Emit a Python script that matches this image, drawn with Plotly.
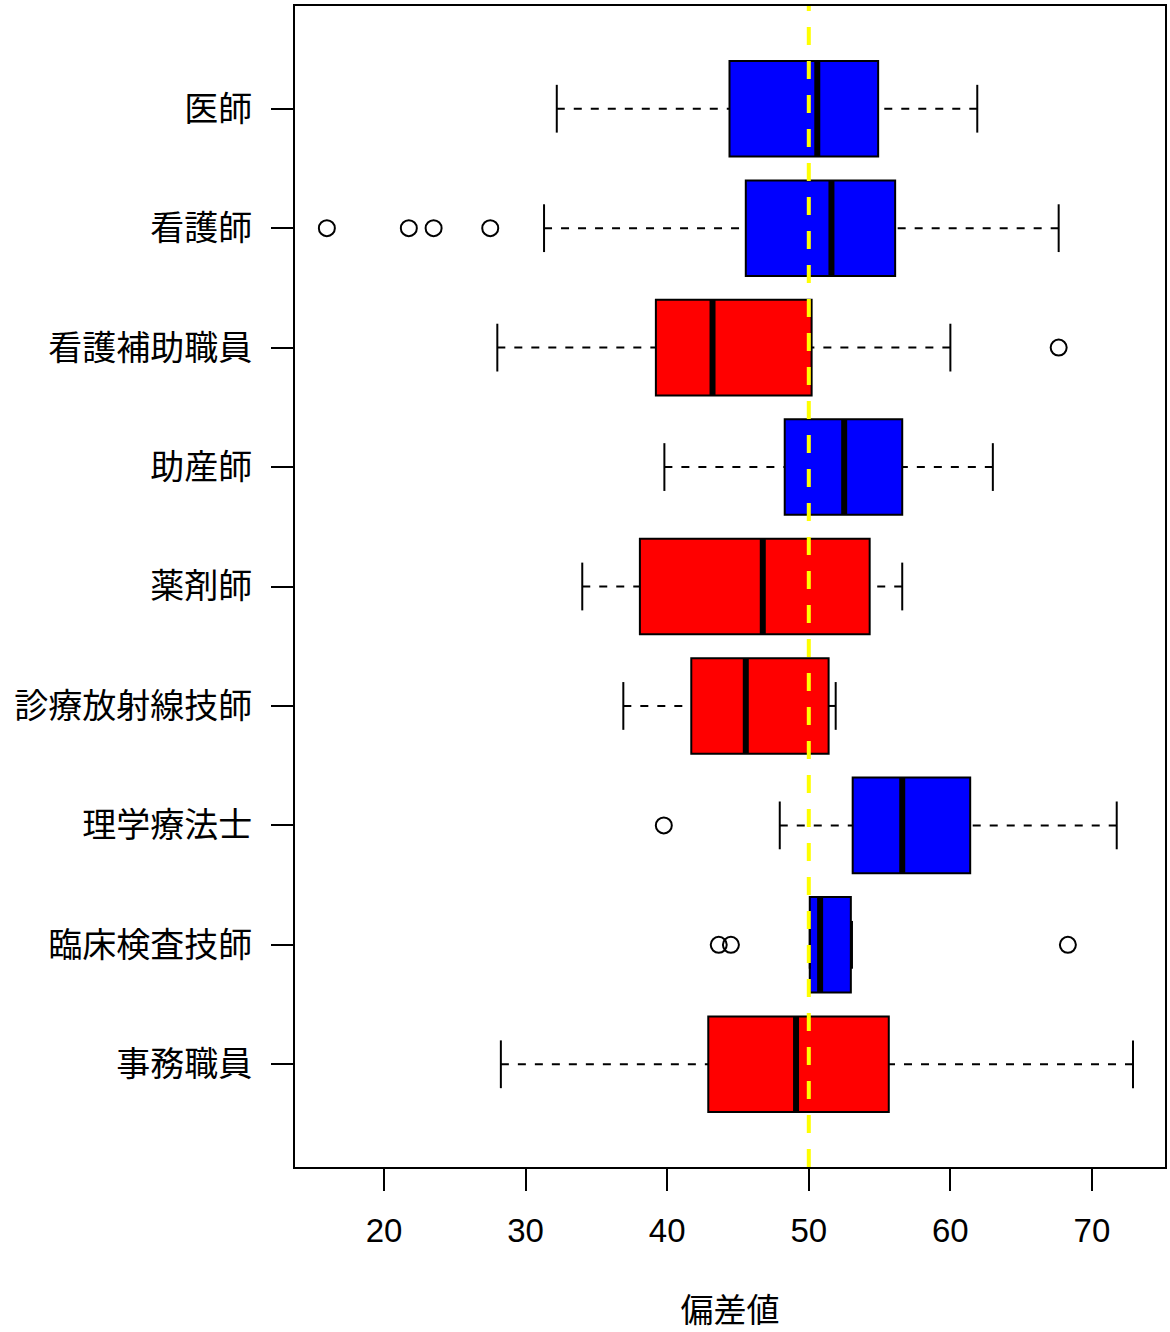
import plotly.graph_objects as go

categories = ["医師", "看護師", "看護補助職員", "助産師", "薬剤師",
              "診療放射線技師", "理学療法士", "臨床検査技師", "事務職員"]
lower_whisker = [32.2, 31.3, 28.0, 39.8, 34.0, 36.9, 47.95, 50.07, 28.25]
q1 = [44.4, 45.55, 39.2, 48.3, 38.07, 41.7, 53.1, 50.07, 42.9]
median = [50.6, 51.6, 43.2, 52.5, 46.75, 45.55, 56.6, 50.8, 49.1]
q3 = [54.9, 56.1, 50.2, 56.6, 54.3, 51.4, 61.4, 52.97, 55.65]
upper_whisker = [61.9, 67.65, 60.0, 63.0, 56.6, 51.9, 71.75, 53.05, 72.9]
outliers = [[], [15.96, 21.75, 23.5, 27.5], [67.65], [], [], [], [39.76],
            [43.64, 44.5, 68.3], []]
colors = ["blue", "blue", "red", "blue", "red", "red", "blue", "blue", "red"]
x_ticks = [20, 30, 40, 50, 60, 70]
ref_value = 50

n = len(categories)
positions = [n - i for i in range(n)]
BOX_W = 0.8
CAP_HALF = 0.2

fig = go.Figure()

for i in range(n):
    fig.add_trace(go.Box(
        orientation="h", y=[positions[i]],
        q1=[q1[i]], median=[median[i]], q3=[q3[i]],
        lowerfence=[q1[i]], upperfence=[q3[i]],
        width=BOX_W, fillcolor=colors[i],
        line=dict(color="black", width=2),
        whiskerwidth=0, boxpoints=False, showlegend=False, hoverinfo="skip",
    ))

# whiskers (dashed), drawn from whisker end toward the box
wx, wy = [], []
for i in range(n):
    wx += [lower_whisker[i], q1[i], None, upper_whisker[i], q3[i], None]
    wy += [positions[i], positions[i], None, positions[i], positions[i], None]
fig.add_trace(go.Scatter(x=wx, y=wy, mode="lines",
                         line=dict(color="black", width=2, dash="8px,9px"),
                         showlegend=False, hoverinfo="skip"))

# caps
cx, cy = [], []
for i in range(n):
    for v in (lower_whisker[i], upper_whisker[i]):
        cx += [v, v, None]
        cy += [positions[i] - CAP_HALF, positions[i] + CAP_HALF, None]
fig.add_trace(go.Scatter(x=cx, y=cy, mode="lines",
                         line=dict(color="black", width=2),
                         showlegend=False, hoverinfo="skip"))

# medians
mx, my = [], []
for i in range(n):
    mx += [median[i], median[i], None]
    my += [positions[i] - BOX_W / 2, positions[i] + BOX_W / 2, None]
fig.add_trace(go.Scatter(x=mx, y=my, mode="lines",
                         line=dict(color="black", width=6),
                         showlegend=False, hoverinfo="skip"))

# outliers
ox, oy = [], []
for i in range(n):
    for v in outliers[i]:
        ox.append(v)
        oy.append(positions[i])
fig.add_trace(go.Scatter(x=ox, y=oy, mode="markers",
                         marker=dict(symbol="circle-open", size=16, color="black",
                                     line=dict(width=2, color="black")),
                         showlegend=False, hoverinfo="skip"))

fig.add_shape(type="line", xref="x", yref="paper", x0=ref_value, x1=ref_value,
              y0=0, y1=1, layer="above",
              line=dict(color="#FFFF00", width=4, dash="18px,16px"))

fig.update_layout(
    width=1170, height=1332,
    margin=dict(l=295, r=5, t=6, b=165, autoexpand=False),
    plot_bgcolor="white", paper_bgcolor="white",
    showlegend=False,
    xaxis=dict(
        range=[13.71, 75.16], tickvals=x_ticks, ticktext=[str(t) for t in x_ticks],
        showgrid=False, zeroline=False,
        showline=True, mirror=True, linecolor="black", linewidth=2,
        ticks="outside", ticklen=22, tickwidth=1.8, tickcolor="black",
        ticklabelstandoff=11,
        tickfont=dict(family="Liberation Sans, Arial", size=33, color="black"),
        title=dict(text="偏差値", standoff=62,
                   font=dict(family="Noto Sans CJK JP", size=33, color="black")),
        automargin=False,
    ),
    yaxis=dict(
        range=[0.14, 9.86], tickvals=positions, ticktext=categories,
        showgrid=False, zeroline=False,
        showline=True, mirror=True, linecolor="black", linewidth=2,
        ticks="outside", ticklen=22, tickwidth=1.8, tickcolor="black",
        ticklabelstandoff=12,
        tickfont=dict(family="Noto Sans CJK JP", size=34, color="black"),
        automargin=False,
    ),
)

fig.write_html("out.html", config={"displayModeBar": False},
               post_script="document.body.style.margin='0px';")
